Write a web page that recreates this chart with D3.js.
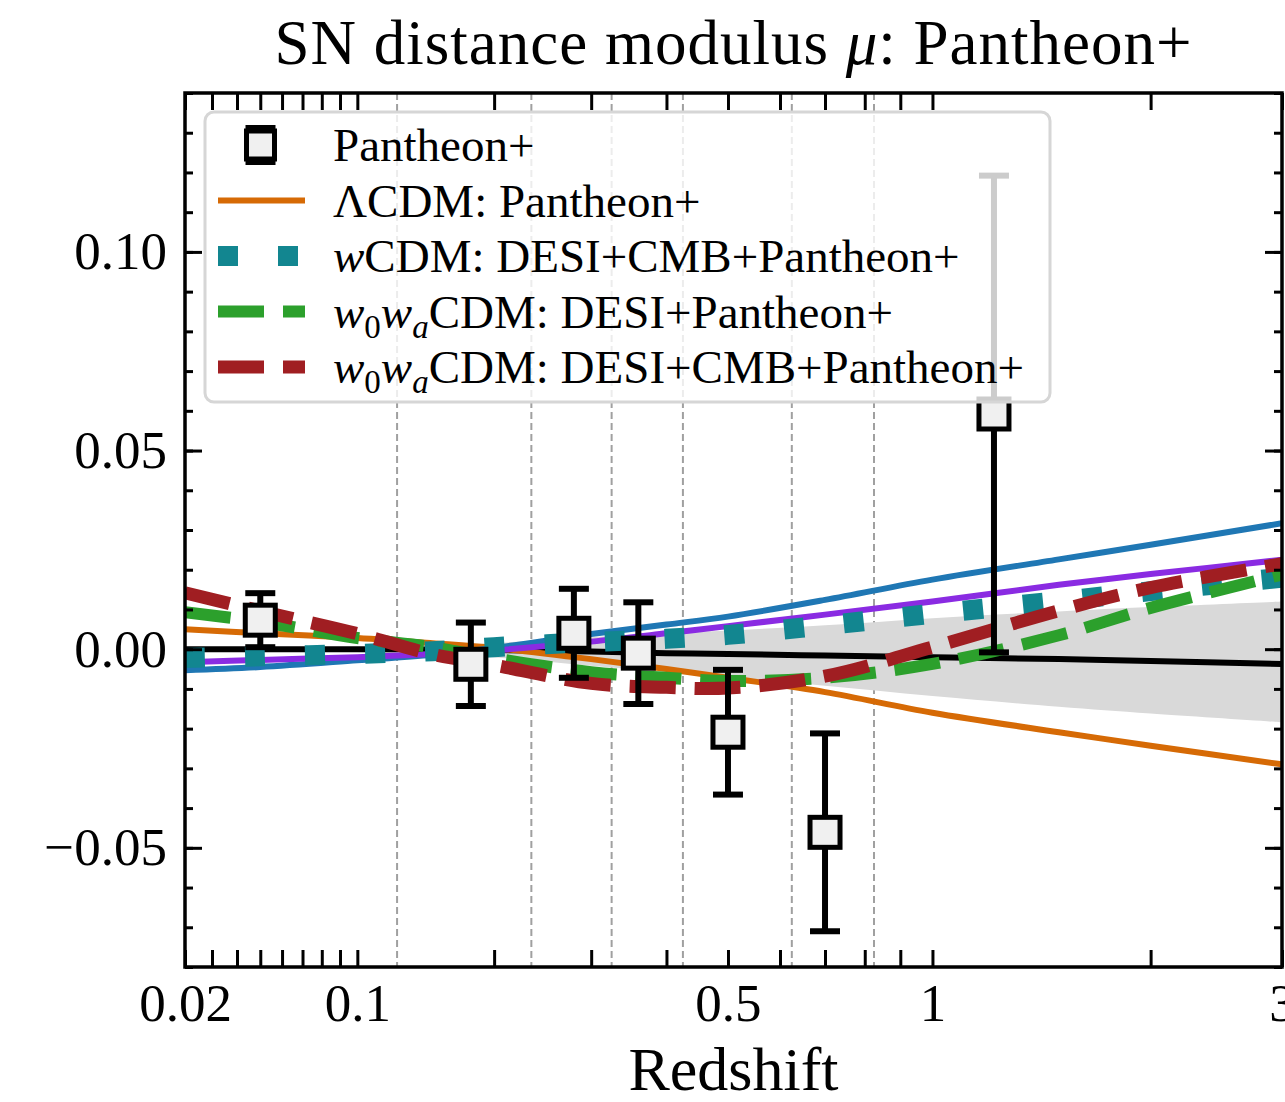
<!DOCTYPE html>
<html>
<head>
<meta charset="utf-8">
<script src="https://cdn.jsdelivr.net/npm/d3@7"></script>
<style>
    body { margin: 0; background: #fff; }
    svg text { font-family: "Liberation Serif", "Times New Roman", serif; fill: #000; }
</style>
</head>
<body>
<div id="chart"></div>
<script>
// redshift grid the model curves were read on
const zGrid = [0.02, 0.05, 0.1, 0.15, 0.2, 0.3, 0.4, 0.5, 0.7, 1.0, 1.5, 2.0, 3.0];

// residuals of mu for each model
const refLine   = [0, 0, 0, -0.0001, -0.0002, -0.0006, -0.001, -0.0012, -0.0016, -0.002, -0.0025, -0.003, -0.0037];
const blueLine  = [-0.0053, -0.0045, -0.0028, -0.0014, 0.0003, 0.0038, 0.0062, 0.0082, 0.0124, 0.0175, 0.0226, 0.0263, 0.0317];
const purpLine  = [-0.0033, -0.0027, -0.002, -0.0012, -0.0003, 0.0019, 0.004, 0.0058, 0.0087, 0.012, 0.0162, 0.0189, 0.0225];
const lcdmPanth = [0.005, 0.004, 0.0028, 0.0015, 0.0003, -0.0025, -0.005, -0.0072, -0.0108, -0.016, -0.0209, -0.0243, -0.029];
const wcdmAll   = [-0.0022, -0.0018, -0.0012, -0.0005, 0.0005, 0.0018, 0.0026, 0.0036, 0.006, 0.0089, 0.0121, 0.0146, 0.018];
const w0waDesiPanth = [0.0093, 0.0069, 0.0028, 0.0005, -0.0023, -0.0058, -0.0072, -0.008, -0.0072, -0.0037, 0.0035, 0.0104, 0.0188];
const w0waAll   = [0.0142, 0.0096, 0.0039, -0.0013, -0.004, -0.0086, -0.0096, -0.0098, -0.0068, 0.0005, 0.0097, 0.0155, 0.0215];

// grey band
const bandZ  = [0.125, 0.2, 0.3, 0.4, 0.5, 0.7, 1.0, 1.5, 2.0, 3.0];
const bandHi = [0, 0.0015, 0.003, 0.004, 0.0047, 0.006, 0.0078, 0.0095, 0.0106, 0.012];
const bandLo = [0, -0.002, -0.0042, -0.0058, -0.007, -0.0092, -0.0118, -0.0145, -0.0162, -0.0184];

// binned Pantheon+ points
const ptZ   = [0.05, 0.18, 0.28, 0.36, 0.50, 0.70, 1.22];
const ptMu  = [0.0073, -0.0038, 0.0040, -0.0010, -0.0209, -0.0461, 0.0592];
const ptErr = [0.0068, 0.0105, 0.0112, 0.0128, 0.0157, 0.0249, 0.0600];

// dashed verticals
const binEdges = [0.125, 0.235, 0.325, 0.425, 0.625, 0.825];

// ticks
const xMajor = [0.02, 0.1, 0.5, 1, 3];
const xMinor = [0.03, 0.04, 0.05, 0.06, 0.07, 0.08, 0.09, 0.2, 0.3, 0.4, 0.6, 0.7, 0.8, 0.9, 2];
const yMajor = [-0.05, 0, 0.05, 0.10];
const yMinor = d3.range(-0.08, 0.1401, 0.01);

const zOffset = 0.1;   // axis is log(z + 0.1)

const width = 1285;
const height = 1102;
const pLeft = 185, pRight = 1282, pTop = 93, pBottom = 967;

const xLog = d3.scaleLog()
    .domain([0.02 + zOffset, 3 + zOffset])
    .range([pLeft, pRight]);
const xPos = z => xLog(z + zOffset);

const y = d3.scaleLinear()
    .domain([-0.08, 0.14])
    .range([pBottom, pTop]);

const svg = d3.select("#chart").append("svg")
    .attr("width", width)
    .attr("height", height);

svg.append("defs").append("clipPath")
    .attr("id", "plotClip")
    .append("rect")
    .attr("x", pLeft).attr("y", pTop)
    .attr("width", pRight - pLeft).attr("height", pBottom - pTop);

const plot = svg.append("g").attr("clip-path", "url(#plotClip)");

// vertical dashed lines
plot.selectAll("line.edge")
    .data(binEdges)
    .enter().append("line")
    .attr("class", "edge")
    .attr("x1", d => xPos(d)).attr("x2", d => xPos(d))
    .attr("y1", pTop).attr("y2", pBottom)
    .attr("stroke", "#a0a0a0")
    .attr("stroke-width", 2)
    .attr("stroke-dasharray", "7,4");

// band
const band = bandZ.map((z, i) => ({z: z, lo: bandLo[i], hi: bandHi[i]}));
plot.append("path")
    .datum(band)
    .attr("fill", "#d9d9d9")
    .attr("d", d3.area()
        .x(d => xPos(d.z))
        .y0(d => y(d.lo))
        .y1(d => y(d.hi))
        .curve(d3.curveCatmullRom));

const line = d3.line()
    .x(d => xPos(d.z))
    .y(d => y(d.v))
    .curve(d3.curveCatmullRom);

const series = [
    {vals: refLine, color: "#000000", width: 6, dash: null},
    {vals: lcdmPanth, color: "#d66a05", width: 6, dash: null},
    {vals: blueLine, color: "#1f77b4", width: 6, dash: null},
    {vals: purpLine, color: "#8a2be2", width: 6, dash: null},
    {vals: wcdmAll, color: "#128690", width: 20, dash: "20,40"},
    {vals: w0waDesiPanth, color: "#2ca02c", width: 12, dash: "46,19"},
    {vals: w0waAll, color: "#a01e22", width: 13, dash: "46,19"}
];

series.forEach(s => {
    plot.append("path")
        .datum(zGrid.map((z, i) => ({z: z, v: s.vals[i]})))
        .attr("fill", "none")
        .attr("stroke", s.color)
        .attr("stroke-width", s.width)
        .attr("stroke-dasharray", s.dash)
        .attr("d", line);
});

// points with error bars
const pts = ptZ.map((z, i) => ({z: z, mu: ptMu[i], err: ptErr[i]}));
const capW = 30, box = 30;
const ptG = plot.selectAll("g.pt")
    .data(pts)
    .enter().append("g")
    .attr("class", "pt");
ptG.append("line")
    .attr("x1", d => xPos(d.z)).attr("x2", d => xPos(d.z))
    .attr("y1", d => y(d.mu - d.err)).attr("y2", d => y(d.mu + d.err))
    .attr("stroke", "#000").attr("stroke-width", 6);
ptG.selectAll("line.cap")
    .data(d => [d.mu - d.err, d.mu + d.err].map(v => ({z: d.z, v: v})))
    .enter().append("line")
    .attr("class", "cap")
    .attr("x1", d => xPos(d.z) - capW / 2).attr("x2", d => xPos(d.z) + capW / 2)
    .attr("y1", d => y(d.v)).attr("y2", d => y(d.v))
    .attr("stroke", "#000").attr("stroke-width", 6);
ptG.append("rect")
    .attr("x", d => xPos(d.z) - box / 2)
    .attr("y", d => y(d.mu) - box / 2)
    .attr("width", box).attr("height", box)
    .attr("fill", "#f0f0f0")
    .attr("stroke", "#000")
    .attr("stroke-width", 5);

// axes, ticks point inward
const fmtX = d3.format("");
svg.append("g")
    .attr("class", "x axis")
    .attr("transform", "translate(0," + pBottom + ")")
    .call(d3.axisBottom(xLog)
        .tickValues(xMajor.concat(xMinor).map(z => z + zOffset))
        .tickSize(-17)
        .tickPadding(16)
        .tickFormat(d => {
            const z = +(d - zOffset).toFixed(3);
            return xMajor.includes(z) ? fmtX(z) : "";
        }));
svg.append("g")
    .attr("class", "x axis")
    .attr("transform", "translate(0," + pTop + ")")
    .call(d3.axisTop(xLog)
        .tickValues(xMajor.concat(xMinor).map(z => z + zOffset))
        .tickSize(-17)
        .tickFormat(""));

svg.append("g")
    .attr("class", "y axis")
    .attr("transform", "translate(" + pLeft + ",0)")
    .call(d3.axisLeft(y).tickValues(yMinor).tickSize(-8).tickFormat(""));
svg.append("g")
    .attr("class", "y axis")
    .attr("transform", "translate(" + pLeft + ",0)")
    .call(d3.axisLeft(y).tickValues(yMajor).tickSize(-17).tickPadding(18).tickFormat(d3.format(".2f")));
svg.append("g")
    .attr("class", "y axis")
    .attr("transform", "translate(" + pRight + ",0)")
    .call(d3.axisRight(y).tickValues(yMinor).tickSize(-8).tickFormat(""));
svg.append("g")
    .attr("class", "y axis")
    .attr("transform", "translate(" + pRight + ",0)")
    .call(d3.axisRight(y).tickValues(yMajor).tickSize(-17).tickFormat(""));

svg.selectAll(".axis .domain").remove();
svg.selectAll(".axis .tick line").attr("stroke-width", 3);
svg.selectAll(".axis text")
    .style("font-family", "'Liberation Serif', serif")
    .style("font-size", "53px");

svg.append("rect")
    .attr("x", pLeft).attr("y", pTop)
    .attr("width", pRight - pLeft).attr("height", pBottom - pTop)
    .attr("fill", "none")
    .attr("stroke", "#000")
    .attr("stroke-width", 3.5);

// legend
const legend = svg.append("g").attr("class", "legend");
legend.append("rect")
    .attr("x", 205).attr("y", 112)
    .attr("width", 845).attr("height", 290)
    .attr("rx", 9)
    .attr("fill", "#fff").attr("fill-opacity", 0.8)
    .attr("stroke", "#d6d6d6").attr("stroke-width", 3);

const rowY = i => 145 + i * 55.5;
const hx0 = 218, hx1 = 305, tx = 333;

// point handle
const hm = (hx0 + hx1) / 2 - 1;
legend.append("line")
    .attr("x1", hm).attr("x2", hm).attr("y1", rowY(0) - 17).attr("y2", rowY(0) + 17)
    .attr("stroke", "#000").attr("stroke-width", 6);
[-17, 17].forEach(o => legend.append("line")
    .attr("x1", hm - 15).attr("x2", hm + 15).attr("y1", rowY(0) + o).attr("y2", rowY(0) + o)
    .attr("stroke", "#000").attr("stroke-width", 6));
legend.append("rect")
    .attr("x", hm - 14).attr("y", rowY(0) - 14)
    .attr("width", 28).attr("height", 28)
    .attr("fill", "#f0f0f0").attr("stroke", "#000").attr("stroke-width", 5);

const legendLines = [
    {s: series[1], i: 1},
    {s: series[4], i: 2},
    {s: series[5], i: 3},
    {s: series[6], i: 4}
];
legendLines.forEach(l => legend.append("line")
    .attr("x1", hx0).attr("x2", hx1)
    .attr("y1", rowY(l.i)).attr("y2", rowY(l.i))
    .attr("stroke", l.s.color)
    .attr("stroke-width", l.s.width)
    .attr("stroke-dasharray", l.s.dash));

const labels = [
    [["Pantheon+"]],
    [["ΛCDM: Pantheon+"]],
    [["w", "i"], ["CDM: DESI+CMB+Pantheon+"]],
    [["w", "i"], ["0", "sub"], ["w", "i"], ["a", "isub"], ["CDM: DESI+Pantheon+"]],
    [["w", "i"], ["0", "sub"], ["w", "i"], ["a", "isub"], ["CDM: DESI+CMB+Pantheon+"]]
];
labels.forEach((parts, i) => {
    const t = legend.append("text")
        .attr("x", tx).attr("y", rowY(i))
        .attr("dy", "0.35em")
        .style("font-size", "47px");
    let shifted = false;
    parts.forEach(p => {
        const sp = t.append("tspan").text(p[0]);
        const isSub = p[1] === "sub" || p[1] === "isub";
        if (p[1] === "i" || p[1] === "isub") sp.style("font-style", "italic");
        if (isSub) {
            sp.style("font-size", "33px").attr("dy", shifted ? 0 : 10);
            shifted = true;
        } else if (shifted) {
            sp.attr("dy", -10);
            shifted = false;
        }
    });
});

// title and axis label
const title = svg.append("text")
    .attr("x", (pLeft + pRight) / 2).attr("y", 64)
    .attr("text-anchor", "middle")
    .style("font-size", "63px")
    .style("letter-spacing", "1px");
title.append("tspan").text("SN distance modulus ");
title.append("tspan").style("font-style", "italic").text("μ");
title.append("tspan").text(": Pantheon+");

svg.append("text")
    .attr("x", (pLeft + pRight) / 2).attr("y", 1090)
    .attr("text-anchor", "middle")
    .style("font-size", "62px")
    .text("Redshift");
</script>
</body>
</html>
